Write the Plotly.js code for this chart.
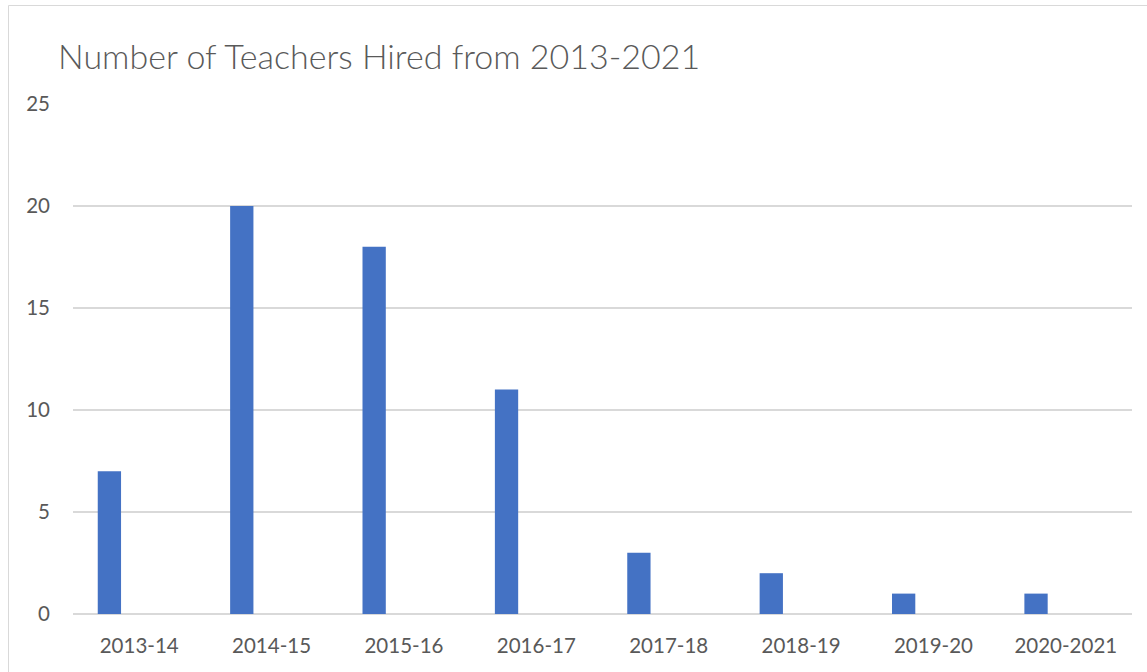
<!DOCTYPE html>
<html>
<head>
<meta charset="utf-8">
<script src="https://cdn.plot.ly/plotly-3.0.1.min.js"></script>
<style>html,body{margin:0;padding:0;background:#fff;}#chart{width:1147px;height:672px;}</style>
</head>
<body>
<div id="chart"></div>
<script>
var categories = ["2013-14", "2014-15", "2015-16", "2016-17", "2017-18", "2018-19", "2019-20", "2020-2021"];
var teachersHired = [7, 20, 18, 11, 3, 2, 1, 1];
var yTickValues = [0, 5, 10, 15, 20, 25];

var W = 1147, H = 672;
var mL = 73, mR = 15, mT = 104, mB = 58;
var plotW = W - mL - mR, plotH = H - mT - mB;

var trace = {
  type: 'bar',
  x: categories,
  y: teachersHired,
  width: 0.176,
  offset: -0.313,
  marker: {color: '#4472C4'},
  hoverinfo: 'x+y'
};

var layout = {
  width: W, height: H,
  margin: {l: mL, r: mR, t: mT, b: mB, pad: 0},
  paper_bgcolor: '#ffffff',
  plot_bgcolor: '#ffffff',
  showlegend: false,
  font: {family: 'Lato, "Open Sans", sans-serif', color: '#595959'},
  title: {
    text: 'Number of Teachers Hired from 2013-2021',
    font: {family: 'Lato, "Open Sans", sans-serif', size: 34, weight: 300, color: '#595959'},
    xref: 'container', yref: 'container',
    x: 58 / W, xanchor: 'left',
    y: 1 - 57 / H, yanchor: 'middle'
  },
  xaxis: {
    type: 'category',
    range: [-0.5, categories.length - 0.5],
    showgrid: false,
    showline: false,
    zeroline: false,
    ticks: '',
    tickfont: {size: 20.5, color: '#595959'},
    ticklabelstandoff: 17,
    fixedrange: true
  },
  yaxis: {
    range: [0, 25],
    tickvals: yTickValues,
    ticktext: yTickValues.map(String),
    showgrid: true,
    gridcolor: '#d9d9d9',
    gridwidth: 1.3,
    zeroline: true,
    zerolinecolor: '#d9d9d9',
    zerolinewidth: 1.6,
    showline: false,
    ticks: '',
    tickfont: {size: 20.5, color: '#595959'},
    ticklabelstandoff: 22,
    fixedrange: true
  },
  shapes: [{
    type: 'rect',
    xref: 'paper', yref: 'paper',
    x0: (8.5 - mL) / plotW, x1: (W + 20 - mL) / plotW,
    y0: -(H + 20 - mT - plotH) / plotH, y1: 1 + (mT - 5.5) / plotH,
    line: {color: '#d9d9d9', width: 1},
    fillcolor: 'rgba(0,0,0,0)',
    layer: 'below'
  }]
};

Plotly.newPlot('chart', [trace], layout, {displayModeBar: false, staticPlot: true});
</script>
</body>
</html>
